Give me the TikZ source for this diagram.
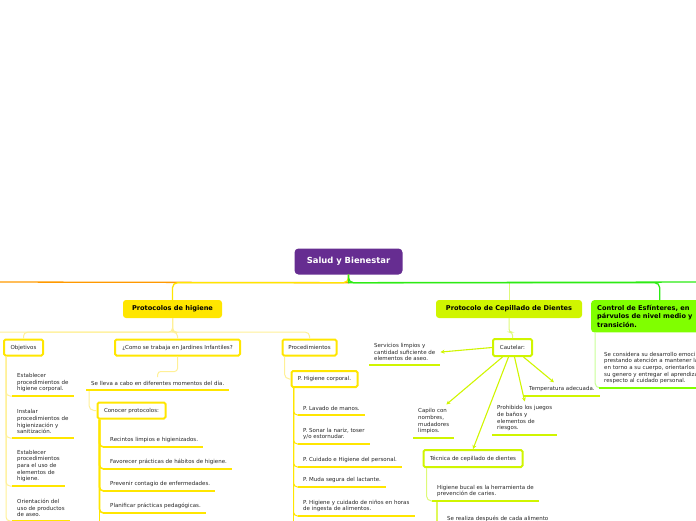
\documentclass[tikz,border=0pt]{standalone}
\usepackage{fontspec}
\setmainfont{DejaVu Sans}
\usetikzlibrary{arrows.meta}

\definecolor{rootpurple}{RGB}{102,45,145}
\definecolor{hygyellow}{RGB}{255,230,0}
\definecolor{hygpale}{RGB}{255,240,150}
\definecolor{cepolime}{RGB}{208,245,0}
\definecolor{limepale}{RGB}{222,250,120}
\definecolor{ctlgreen}{RGB}{128,255,0}
\definecolor{ctlpale}{RGB}{200,255,150}
\definecolor{mainorange}{RGB}{255,153,0}
\definecolor{maingreen}{RGB}{45,235,20}

\begin{document}
\begin{tikzpicture}[x=1pt,y=-1pt,
    every node/.style={font=\fontsize{5.5}{6.6}\selectfont, text=black!85},
    root/.style={rectangle, rounded corners=4pt, fill=rootpurple, text=white,
        font=\bfseries\fontsize{8.4}{9}\selectfont, minimum width=108pt, minimum height=26pt},
    topic/.style={rectangle, rounded corners=3pt, text=black,
        font=\bfseries\fontsize{6.6}{8.4}\selectfont, minimum height=18pt, inner xsep=6pt},
    subbox/.style={rectangle, rounded corners=1.5pt, draw=#1, line width=2pt,
        fill=white, minimum height=16pt, inner xsep=4pt},
    item/.style={anchor=south west, align=left, inner xsep=5pt, inner ysep=4pt},
    uline/.style={line width=2.6pt, draw=#1},
    thin/.style={line width=1pt, draw=#1},
    cautarrow/.style={line width=1.1pt, draw=cepolime, -{Stealth[length=4pt,width=4pt]}}
  ]

	\clip (0,0) rectangle (696,520);

	% main branches
	\node[root] (salud) at (348.5,261.5) {Salud y Bienestar};
	\node[topic, fill=hygyellow, minimum width=99pt] (hig) at (172.5,309) {Protocolos de higiene};
	\node[topic, fill=cepolime, minimum width=146pt] (cep) at (509,309) {Protocolo de Cepillado de Dientes};
	\node[topic, fill=ctlgreen, anchor=north west, align=left, text width=125pt, inner ysep=5pt] (esf) at (591,300)
	    {Control de Esfínteres, en\\párvulos de nivel medio y\\transición.};

	\coordinate (westend) at (-10,282);
	\coordinate (eastend) at (710,282);
	\coordinate (higwest) at (-10,332);

	\draw[line width=1.3pt, mainorange] (salud.south) -- ++(0,8) -- (westend);
	\draw[line width=1.3pt, hygyellow, rounded corners=5pt] (salud.south) -- ++(0,8) -| (hig.north);
	\draw[thin=limepale, rounded corners=4pt] (cep.north) -- (cep.north |- eastend);
	\draw[line width=1.3pt, maingreen, rounded corners=5pt] (salud.south) -- ++(0,8) -| (esf.north);
	\draw[line width=1.3pt, maingreen] (salud.south) -- ++(0,8) -- (eastend);

	% Protocolos de higiene
	\node[subbox=hygyellow, minimum width=39pt] (obj) at (23.5,347.5) {Objetivos};
	\node[subbox=hygyellow, minimum width=125pt] (como) at (177.5,347.5) {¿Como se trabaja en Jardines Infantiles?};
	\node[subbox=hygyellow, minimum width=54pt] (proc) at (309.5,347.5) {Procedimientos};

	\draw[thin=hygpale, rounded corners=4pt] (hig.south) -- ++(0,14) -| (obj.north);
	\draw[thin=hygpale, rounded corners=4pt] (hig.south) -- ++(0,14) -| (como.north);
	\draw[thin=hygpale, rounded corners=4pt] (hig.south) -- ++(0,14) -| (proc.north);
	\draw[thin=hygpale] (hig.south) -- ++(0,14) -- (higwest);

	\node[item] (obj1) at (12,396) {Establecer\\procedimientos de\\higiene corporal.};
	\node[item] (obj2) at (12,438) {Instalar\\procedimientos de\\higienización y\\sanitización.};
	\node[item] (obj3) at (12,486) {Establecer\\procedimientos\\para el uso de\\elementos de\\higiene.};
	\node[item] (obj4) at (12,521) {Orientación del\\uso de productos\\de aseo.};

	\draw[thin=hygpale, rounded corners=4pt] ([xshift=3pt]obj.south west) |- (obj1.south west);
	\draw[thin=hygpale, rounded corners=4pt] ([xshift=3pt]obj.south west) |- (obj2.south west);
	\draw[thin=hygpale, rounded corners=4pt] ([xshift=3pt]obj.south west) |- (obj3.south west);
	\draw[thin=hygpale, rounded corners=4pt] ([xshift=3pt]obj.south west) |- (obj4.south west);

	\node[item] (momentos) at (86,390) {Se lleva a cabo en diferentes momentos del día.};
	\node[subbox=hygyellow, minimum width=68pt] (conocer) at (131.5,410.5) {Conocer protocolos:};
	\draw[thin=hygpale, rounded corners=3pt] (como.south) -- ++(0,15) -| (momentos.north);
	\draw[thin=hygpale, rounded corners=5pt] ([xshift=3pt]momentos.south west) |- (conocer.west);

	\node[item] (con1) at (105,447) {Recintos limpios e higienizados.};
	\node[item] (con2) at (105,469) {Favorecer prácticas de hábitos de higiene.};
	\node[item] (con3) at (105,491) {Prevenir contagio de enfermedades.};
	\node[item] (con4) at (105,513) {Planificar prácticas pedagógicas.};

	\draw[line width=1.6pt, hygyellow, rounded corners=4pt] ([xshift=3pt]conocer.south west) |- (con1.south west);
	\draw[line width=1.6pt, hygyellow, rounded corners=4pt] ([xshift=3pt]conocer.south west) |- (con2.south west);
	\draw[line width=1.6pt, hygyellow, rounded corners=4pt] ([xshift=3pt]conocer.south west) |- (con3.south west);
	\draw[line width=1.6pt, hygyellow, rounded corners=4pt] ([xshift=3pt]conocer.south west) |- (con4.south west);
	\draw[line width=1.6pt, hygyellow] ([xshift=3pt]conocer.south west) -- ++(0,120);

	\node[subbox=hygyellow, minimum width=66pt] (corporal) at (324.5,379) {P. Higiene corporal.};
	\draw[thin=hygpale, rounded corners=5pt] ([xshift=3pt]proc.south west) |- (corporal.west);

	\node[item] (pro1) at (298,415) {P. Lavado de manos.};
	\node[item] (pro2) at (298,444) {P. Sonar la nariz, toser\\y/o estornudar.};
	\node[item] (pro3) at (298,467) {P. Cuidado e Higiene del personal.};
	\node[item] (pro4) at (298,487) {P. Muda segura del lactante.};
	\node[item] (pro5) at (298,516) {P. Higiene y cuidado de niños en horas\\de ingesta de alimentos.};

	\draw[thin=hygyellow, rounded corners=4pt] ([xshift=3pt]corporal.south west) |- (pro1.south west);
	\draw[thin=hygyellow, rounded corners=4pt] ([xshift=3pt]corporal.south west) |- (pro2.south west);
	\draw[thin=hygyellow, rounded corners=4pt] ([xshift=3pt]corporal.south west) |- (pro3.south west);
	\draw[thin=hygyellow, rounded corners=4pt] ([xshift=3pt]corporal.south west) |- (pro4.south west);
	\draw[thin=hygyellow, rounded corners=4pt] ([xshift=3pt]corporal.south west) |- (pro5.south west);
	\draw[thin=hygyellow] ([xshift=3pt]corporal.south west) -- ++(0,160);

	% Protocolo de Cepillado de Dientes
	\node[subbox=cepolime, minimum width=39pt, minimum height=17pt] (cautelar) at (512.5,347.5) {Cautelar:};
	\draw[thin=limepale, rounded corners=3pt] (cep.south) -- ++(0,14) -| (cautelar.north);

	\node[item] (servicios) at (369,365) {Servicios limpios y\\cantidad suficiente de\\elementos de aseo.};
	\node[item] (capilo) at (413,438) {Capilo con\\nombres,\\mudadores\\limpios.};
	\node[subbox=cepolime, minimum width=99pt, minimum height=17pt] (tecnica) at (473,458.5) {Técnica de cepillado de dientes};
	\node[item] (prohibido) at (492,435) {Prohibido los juegos\\de baños y\\elementos de\\riesgos.};
	\node[item] (temperatura) at (524,396) {Temperatura adecuada.};

	\draw[cautarrow] (cautelar.west) -- (servicios.east);
	\draw[cautarrow] ([xshift=-10pt]cautelar.south) -- ([xshift=-8pt]capilo.north east);
	\draw[cautarrow] ([xshift=-4pt]cautelar.south) -- (tecnica.north);
	\draw[cautarrow] ([xshift=2pt]cautelar.south) -- (prohibido.north);
	\draw[cautarrow] ([xshift=11pt]cautelar.south) -- ([xshift=-8pt]temperatura.north);

	\node[item] (bucal) at (432,501) {Higiene bucal es la herramienta de\\prevención de caries.};
	\node[item] (realiza) at (442,526) {Se realiza después de cada alimento};
	\draw[thin=limepale, rounded corners=5pt] ([xshift=4pt]tecnica.south west) |- (bucal.south west);
	\draw[line width=1.3pt, cepolime, rounded corners=4pt] ([xshift=5pt]bucal.south west) |- (realiza.south west);

	% Control de Esfinteres
	\node[item, text width=120pt] (considera) at (599,388)
	    {Se considera su desarrollo emoci\\prestando atención a mantener la\\en torno a su cuerpo, orientarlos\\su genero y entregar el aprendiza\\respecto al cuidado personal.};
	\draw[thin=ctlpale, rounded corners=5pt] ([xshift=4pt]esf.south west) |- (considera.south west);

	% underlines
	\draw[uline=hygyellow] (obj1.south west) -- (obj1.south east);
	\draw[uline=hygyellow] (obj2.south west) -- (obj2.south east);
	\draw[uline=hygyellow] (obj3.south west) -- (obj3.south east);
	\draw[uline=hygyellow] (obj4.south west) -- (obj4.south east);
	\draw[uline=hygyellow] (momentos.south west) -- (momentos.south east);
	\draw[uline=hygyellow] (con1.south west) -- (con1.south east);
	\draw[uline=hygyellow] (con2.south west) -- (con2.south east);
	\draw[uline=hygyellow] (con3.south west) -- (con3.south east);
	\draw[uline=hygyellow] (con4.south west) -- (con4.south east);
	\draw[uline=hygyellow] (pro1.south west) -- (pro1.south east);
	\draw[uline=hygyellow] (pro2.south west) -- (pro2.south east);
	\draw[uline=hygyellow] (pro3.south west) -- (pro3.south east);
	\draw[uline=hygyellow] (pro4.south west) -- (pro4.south east);
	\draw[uline=hygyellow] (pro5.south west) -- (pro5.south east);
	\draw[uline=cepolime] (servicios.south west) -- (servicios.south east);
	\draw[uline=cepolime] (capilo.south west) -- (capilo.south east);
	\draw[uline=cepolime] (prohibido.south west) -- (prohibido.south east);
	\draw[uline=cepolime] (temperatura.south west) -- (temperatura.south east);
	\draw[uline=cepolime] (bucal.south west) -- (bucal.south east);
	\draw[uline=cepolime] (realiza.south west) -- (realiza.south east);
	\draw[uline=ctlgreen] (considera.south west) -- (considera.south east);

\end{tikzpicture}
\end{document}
